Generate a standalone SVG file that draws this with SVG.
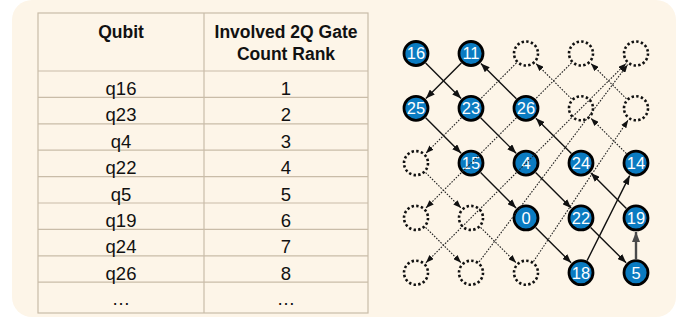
<svg xmlns="http://www.w3.org/2000/svg" width="692" height="320" viewBox="0 0 692 320">
<style>
.grid{stroke:#c9bca8;stroke-width:1.2;fill:none}
.hd{font-family:"Liberation Sans",Arial,sans-serif;font-weight:bold;font-size:17.5px;fill:#111;text-anchor:middle}
.td{font-family:"Liberation Sans",Arial,sans-serif;font-size:18.5px;fill:#111;text-anchor:middle}
.qn circle{fill:#0b7bc1;stroke:#000;stroke-width:2.8}
.qn text{font-family:"Liberation Sans",Arial,sans-serif;font-size:16.5px;fill:#fff;text-anchor:middle}
.em circle{fill:none;stroke:#111;stroke-width:2.6;stroke-dasharray:2.4 2.3}
.sol{stroke:#111;stroke-width:1.4;fill:none;marker-end:url(#ah)}
.dot{stroke:#222;stroke-width:1.1;fill:none;stroke-dasharray:1.6 1.4}
.dota{marker-end:url(#ahs)}
.thick{stroke:#4a4a4a;stroke-width:2.4;fill:none;marker-end:url(#ahg)}
</style>
<defs>
<marker id="ah" markerWidth="9" markerHeight="7" refX="9" refY="3.5" orient="auto" markerUnits="userSpaceOnUse"><path d="M0,0 L9,3.5 L0,7 z" fill="#111"/></marker>
<marker id="ahs" markerWidth="8" markerHeight="6" refX="8" refY="3" orient="auto-start-reverse" markerUnits="userSpaceOnUse"><path d="M0,0 L8,3 L0,6 z" fill="#111"/></marker>
<marker id="ahg" markerWidth="10" markerHeight="8" refX="10" refY="4" orient="auto" markerUnits="userSpaceOnUse"><path d="M0,0 L10,4 L0,8 z" fill="#4a4a4a"/></marker>
</defs>
<rect x="12" y="0" width="664" height="317" rx="20" fill="#fdf5e8"/>
<g id="table">
<rect class="grid" x="38" y="13" width="330" height="300"/>
<line class="grid" x1="204" y1="13" x2="204" y2="313"/>
<line class="grid" x1="38" y1="71" x2="368" y2="71"/>
<line class="grid" x1="38" y1="97.4" x2="368" y2="97.4"/>
<line class="grid" x1="38" y1="123.8" x2="368" y2="123.8"/>
<line class="grid" x1="38" y1="150.2" x2="368" y2="150.2"/>
<line class="grid" x1="38" y1="176.6" x2="368" y2="176.6"/>
<line class="grid" x1="38" y1="203" x2="368" y2="203"/>
<line class="grid" x1="38" y1="229.4" x2="368" y2="229.4"/>
<line class="grid" x1="38" y1="255.8" x2="368" y2="255.8"/>
<line class="grid" x1="38" y1="282.2" x2="368" y2="282.2"/>
<text class="hd" x="121" y="38">Qubit</text>
<text class="hd" x="286" y="38">Involved 2Q Gate</text>
<text class="hd" x="286" y="59.5">Count Rank</text>
<text class="td" x="121" y="95">q16</text><text class="td" x="286" y="95">1</text>
<text class="td" x="121" y="121.4">q23</text><text class="td" x="286" y="121.4">2</text>
<text class="td" x="121" y="147.8">q4</text><text class="td" x="286" y="147.8">3</text>
<text class="td" x="121" y="174.2">q22</text><text class="td" x="286" y="174.2">4</text>
<text class="td" x="121" y="200.6">q5</text><text class="td" x="286" y="200.6">5</text>
<text class="td" x="121" y="227">q19</text><text class="td" x="286" y="227">6</text>
<text class="td" x="121" y="253.4">q24</text><text class="td" x="286" y="253.4">7</text>
<text class="td" x="121" y="279.8">q26</text><text class="td" x="286" y="279.8">8</text>
<text class="td" x="121" y="305">…</text><text class="td" x="286" y="305">…</text>
</g>
<g id="n16" class="qn"><circle cx="416" cy="53.5" r="12"/><text x="416" y="59.3">16</text></g>
<g id="n11" class="qn"><circle cx="471" cy="53.5" r="12"/><text x="471" y="59.3">11</text></g>
<g id="e20" class="em"><circle cx="526" cy="53.5" r="12"/></g>
<g id="e30" class="em"><circle cx="581" cy="53.5" r="12"/></g>
<g id="e40" class="em"><circle cx="636" cy="53.5" r="12"/></g>
<g id="n25" class="qn"><circle cx="416" cy="108.3" r="12"/><text x="416" y="114.1">25</text></g>
<g id="n23" class="qn"><circle cx="471" cy="108.3" r="12"/><text x="471" y="114.1">23</text></g>
<g id="n26" class="qn"><circle cx="526" cy="108.3" r="12"/><text x="526" y="114.1">26</text></g>
<g id="e31" class="em"><circle cx="581" cy="108.3" r="12"/></g>
<g id="e41" class="em"><circle cx="636" cy="108.3" r="12"/></g>
<g id="e02" class="em"><circle cx="416" cy="163.1" r="12"/></g>
<g id="n15" class="qn"><circle cx="471" cy="163.1" r="12"/><text x="471" y="168.9">15</text></g>
<g id="n4" class="qn"><circle cx="526" cy="163.1" r="12"/><text x="526" y="168.9">4</text></g>
<g id="n24" class="qn"><circle cx="581" cy="163.1" r="12"/><text x="581" y="168.9">24</text></g>
<g id="n14" class="qn"><circle cx="636" cy="163.1" r="12"/><text x="636" y="168.9">14</text></g>
<g id="e03" class="em"><circle cx="416" cy="217.9" r="12"/></g>
<g id="e13" class="em"><circle cx="471" cy="217.9" r="12"/></g>
<g id="n0" class="qn"><circle cx="526" cy="217.9" r="12"/><text x="526" y="223.7">0</text></g>
<g id="n22" class="qn"><circle cx="581" cy="217.9" r="12"/><text x="581" y="223.7">22</text></g>
<g id="n19" class="qn"><circle cx="636" cy="217.9" r="12"/><text x="636" y="223.7">19</text></g>
<g id="e04" class="em"><circle cx="416" cy="272.7" r="12"/></g>
<g id="e14" class="em"><circle cx="471" cy="272.7" r="12"/></g>
<g id="e24" class="em"><circle cx="526" cy="272.7" r="12"/></g>
<g id="n18" class="qn"><circle cx="581" cy="272.7" r="12"/><text x="581" y="278.5">18</text></g>
<g id="n5" class="qn"><circle cx="636" cy="272.7" r="12"/><text x="636" y="278.5">5</text></g>
<g id="connectors">
<line class="sol" x1="425.6" y1="63" x2="461.1" y2="98.4"/>
<line class="sol" x1="461.4" y1="63" x2="425.9" y2="98.4"/>
<line class="sol" x1="516.4" y1="98.8" x2="480.9" y2="63.4"/>
<line class="sol" x1="425.6" y1="117.8" x2="461.1" y2="153.2"/>
<line class="sol" x1="480.6" y1="117.8" x2="516.1" y2="153.2"/>
<line class="sol" x1="571.4" y1="153.6" x2="535.9" y2="118.2"/>
<line class="sol" x1="480.6" y1="172.6" x2="516.1" y2="208"/>
<line class="sol" x1="535.6" y1="172.6" x2="571.1" y2="208"/>
<line class="sol" x1="626.4" y1="208.4" x2="590.9" y2="173"/>
<line class="sol" x1="535.6" y1="227.4" x2="571.1" y2="262.8"/>
<line class="sol" x1="590.6" y1="227.4" x2="626.1" y2="262.8"/>
<line class="sol" x1="587.1" y1="260.6" x2="629.7" y2="175.6"/>
<line class="thick" x1="636" y1="259.2" x2="636" y2="231.9"/>
<line class="dot" x1="516.4" y1="63" x2="480.6" y2="98.8"/>
<line class="dot dota" x1="461.4" y1="117.8" x2="425.9" y2="153.2"/>
<line class="dot" x1="571.4" y1="63" x2="535.6" y2="98.8"/>
<line class="dot dota" x1="516.4" y1="117.8" x2="425.9" y2="208"/>
<line class="dot dota" x1="425.9" y1="262.8" x2="626.1" y2="63.4" marker-start="url(#ahs)"/>
<line class="dot dota" x1="479.1" y1="261.9" x2="627.6" y2="64.7"/>
<line class="dot dota" x1="533.5" y1="261.5" x2="628.2" y2="119.9"/>
<line class="dot dota" x1="571.4" y1="98.8" x2="535.9" y2="63.4"/>
<line class="dot dota" x1="626.4" y1="153.6" x2="590.9" y2="118.2"/>
<line class="dot dota" x1="626.4" y1="98.8" x2="590.9" y2="63.4"/>
<line class="dot dota" x1="425.6" y1="172.6" x2="461.1" y2="208"/>
<line class="dot dota" x1="425.6" y1="227.4" x2="461.1" y2="262.8"/>
<line class="dot dota" x1="480.6" y1="227.4" x2="516.1" y2="262.8"/>
</g>
</svg>
